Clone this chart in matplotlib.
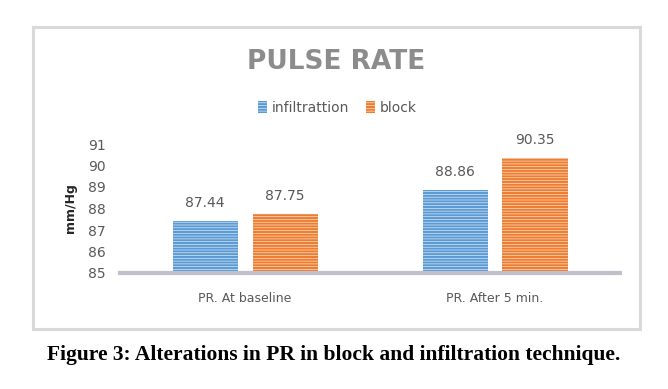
import numpy as np
import matplotlib.pyplot as plt
from matplotlib.patches import Rectangle

categories = ['PR. At baseline', 'PR. After 5 min.']
infiltration = [87.44, 88.86]
block = [87.75, 90.35]
series_names = ['infiltrattion', 'block']
yticks = [85, 86, 87, 88, 89, 90, 91]

blue = '#5b9bd5'
orange = '#ed7d31'
blue_face = '#dce8f5'
orange_face = '#fce0cc'

plt.rcParams['hatch.linewidth'] = 1.5
fig = plt.figure(figsize=(6.68, 3.89), dpi=100)

# outer frame
fig.patches.append(Rectangle((33/668, 1-329/389), (640-33)/668, (329-27)/389,
                             transform=fig.transFigure, fill=False,
                             edgecolor='#d9d9d9', linewidth=2.2))

ax = fig.add_axes([120/668, 1-273/389, 500/668, 129/389])
x = np.arange(len(categories))
w = 0.26
off = 0.16
b1 = ax.bar(x - off, np.array(infiltration) - 85, w, bottom=85, color=blue_face,
            edgecolor=blue, linewidth=0, hatch='------', label=series_names[0])
b2 = ax.bar(x + off, np.array(block) - 85, w, bottom=85, color=orange_face,
            edgecolor=orange, linewidth=0, hatch='------', label=series_names[1])

for bars, vals in [(b1, infiltration), (b2, block)]:
    for r, v in zip(bars, vals):
        ax.text(r.get_x() + r.get_width()/2, v + 0.5, f'{v:.2f}', ha='center',
                va='bottom', fontsize=10, color='#595959')

ax.set_xlim(-0.5, 1.5)
ax.set_ylim(85, 91)
ax.set_yticks(yticks)
ax.set_xticks(x)
ax.set_xticklabels(categories, color='#595959', fontsize=9)
ax.tick_params(axis='y', length=0, labelsize=10, labelcolor='#595959', pad=10)
ax.tick_params(axis='x', length=0, pad=14)
for s in ['top', 'right', 'left']:
    ax.spines[s].set_visible(False)
ax.spines['bottom'].set_color('#c0bfcc')
ax.spines['bottom'].set_linewidth(3)
ax.set_ylabel('mm/Hg', fontsize=9, fontweight='bold', color='#262626', labelpad=8)

fig.text(336/668, 1-62/389, 'PULSE RATE', ha='center', va='center',
         fontsize=19, fontweight='bold', color='#8c8c8c')
fig.legend(handles=[b1, b2], labels=series_names, loc='center',
           bbox_to_anchor=(337/668, 1-108/389), ncol=2, frameon=False,
           fontsize=10, handlelength=0.7, handleheight=0.9, handletextpad=0.3,
           columnspacing=1.2, labelcolor='#595959')

fig.text(334/668, 1-355/389, 'Figure 3: Alterations in PR in block and infiltration technique.',
         ha='center', va='center', fontsize=15.5, fontweight='bold',
         family='Liberation Serif', color='black')

fig.savefig('out.png', dpi=100)
